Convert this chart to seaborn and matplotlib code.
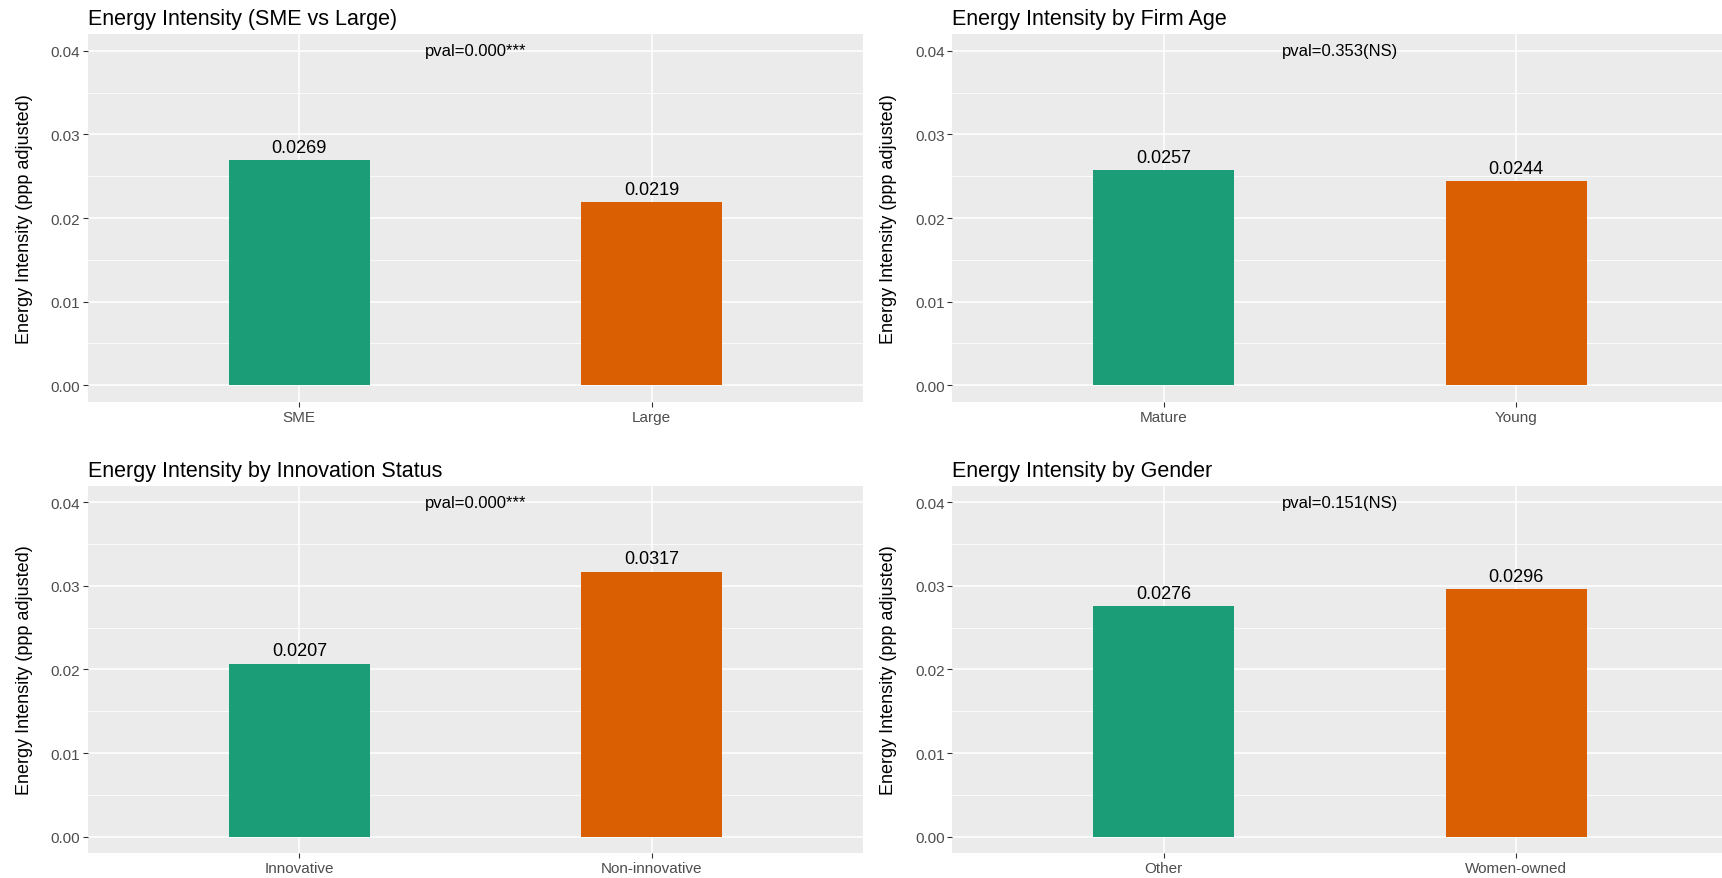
import matplotlib
matplotlib.use("Agg")
import matplotlib.pyplot as plt
from matplotlib.ticker import MultipleLocator, FixedLocator
import pandas as pd
import seaborn as sns

# Panel data
titles = [
    "Energy Intensity (SME vs Large)",
    "Energy Intensity by Firm Age",
    "Energy Intensity by Innovation Status",
    "Energy Intensity by Gender",
]
size_groups = ["SME", "Large"]
size_values = [0.0269, 0.0219]
age_groups = ["Mature", "Young"]
age_values = [0.0257, 0.0244]
innov_groups = ["Innovative", "Non-innovative"]
innov_values = [0.0207, 0.0317]
gender_groups = ["Other", "Women-owned"]
gender_values = [0.0276, 0.0296]
pvals = ["pval=0.000***", "pval=0.353(NS)", "pval=0.000***", "pval=0.151(NS)"]
y_ticks = [0.00, 0.01, 0.02, 0.03, 0.04]
ylabel = "Energy Intensity (ppp adjusted)"

colors = ["#1B9E77", "#D95F02"]

sns.set_theme(style="white")
plt.rcParams["font.family"] = ["Liberation Sans", "DejaVu Sans"]

W, H = 1722, 879
fig = plt.figure(figsize=(W / 100, H / 100), dpi=100)
fig.patch.set_facecolor("white")

# Axes placement in pixels: (left, top, right, bottom)
boxes = [
    (87.9, 35.1, 863.2, 403.0),
    (952.2, 35.1, 1727.5, 403.0),
    (87.9, 486.5, 863.2, 854.4),
    (952.2, 486.5, 1727.5, 854.4),
]

panels = [
    (size_groups, size_values),
    (age_groups, age_values),
    (innov_groups, innov_values),
    (gender_groups, gender_values),
]

for (l, t, r, b), (groups, values), title, ptxt in zip(boxes, panels, titles, pvals):
    ax = fig.add_axes([l / W, 1 - b / H, (r - l) / W, (b - t) / H])
    df = pd.DataFrame({"group": groups, "value": values})
    df["group"] = pd.Categorical(df["group"], categories=groups, ordered=True)
    sns.barplot(data=df, x="group", y="value", hue="group", palette=colors,
                width=0.4, dodge=False, legend=False, ax=ax,
                saturation=1, linewidth=0, zorder=3)

    ax.set_facecolor("#EBEBEB")
    for s in ax.spines.values():
        s.set_visible(False)
    ax.set_xlim(-0.6, 1.6)
    ax.set_ylim(-0.002, 0.042)
    ax.yaxis.set_major_locator(FixedLocator(y_ticks))
    ax.yaxis.set_minor_locator(MultipleLocator(0.005))
    ax.set_yticklabels([f"{v:.2f}" for v in y_ticks])
    ax.grid(which="major", axis="both", color="white", linewidth=1.1, zorder=0)
    ax.grid(which="minor", axis="y", color="white", linewidth=0.55, zorder=0)
    ax.set_axisbelow(True)
    ax.tick_params(axis="both", which="major", length=3.5, width=0.8,
                   color="#333333", labelcolor="#4D4D4D", labelsize=11,
                   pad=2, bottom=True, left=True)
    ax.tick_params(axis="y", which="minor", length=0)
    ax.set_xlabel("")
    ax.set_ylabel(ylabel, fontsize=13, color="black", labelpad=13)
    ax.set_title(title, loc="left", fontsize=15.5, color="black", pad=7)

    for i, v in enumerate(values):
        ax.annotate(f"{v:.4f}", xy=(i, v), xytext=(0, 3), textcoords="offset points",
                    ha="center", va="bottom", fontsize=13, color="black", zorder=5)
    ax.text(0.5, 0.04, ptxt, ha="center", va="center", fontsize=12, color="black",
            zorder=5)

fig.savefig("out.png", dpi=100, facecolor="white")
